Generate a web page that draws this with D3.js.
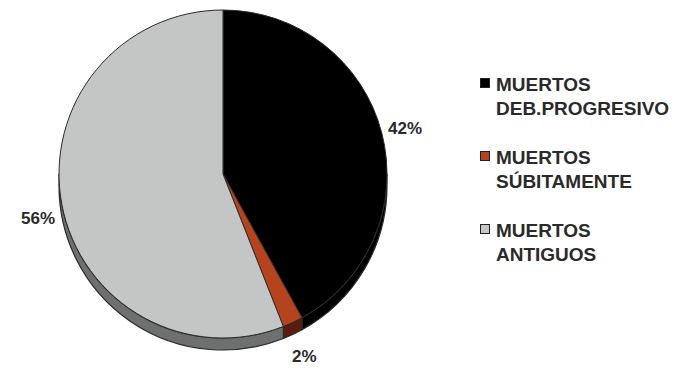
<!DOCTYPE html>
<html>
<head>
<meta charset="utf-8">
<script src="https://cdn.jsdelivr.net/npm/d3@7"></script>
<style>
  html, body { margin: 0; padding: 0; background: #fff; }
  svg { display: block; }
  text { font-family: "Liberation Sans", Arial, sans-serif; font-weight: bold; fill: #2a2a2a; }
</style>
</head>
<body>
<div id="chart"></div>
<script>
// Slices, clockwise from 12 o'clock
const categories = ["MUERTOS DEB.PROGRESIVO", "MUERTOS SÚBITAMENTE", "MUERTOS ANTIGUOS"];
const legendLines = [["MUERTOS", "DEB.PROGRESIVO"], ["MUERTOS", "SÚBITAMENTE"], ["MUERTOS", "ANTIGUOS"]];
const values = [42, 2, 56];
const faceColours = ["#000000", "#b5431d", "#c4c5c5"];
const sideColours = ["#000000", "#5a1c0c", "#6e7070"];

const width = 688;
const height = 371;

// Pie geometry
const cx = 223;
const cy = 174;
const radius = 164;
const depth = 12;

const svg = d3.select("#chart").append("svg")
  .attr("width", width)
  .attr("height", height);

const pie = d3.pie().sort(null).value((d) => d);
const arcs = pie(values);

const arc = d3.arc().innerRadius(0).outerRadius(radius);

// point on the rim for a d3 pie angle
const rimPoint = (a, dy) => [cx + radius * Math.sin(a), cy + dy - radius * Math.cos(a)];

// Side walls - only the front (lower) half of the pie shows
const sides = svg.append("g").attr("class", "sides");
arcs.forEach((d, i) => {
  const a0 = Math.max(d.startAngle, Math.PI / 2);
  const a1 = Math.min(d.endAngle, 3 * Math.PI / 2);
  if (a1 <= a0) return;
  const p = d3.path();
  const s = rimPoint(a0, 0);
  p.moveTo(s[0], s[1]);
  p.arc(cx, cy, radius, a0 - Math.PI / 2, a1 - Math.PI / 2);
  const e = rimPoint(a1, depth);
  p.lineTo(e[0], e[1]);
  p.arc(cx, cy + depth, radius, a1 - Math.PI / 2, a0 - Math.PI / 2, true);
  p.closePath();
  sides.append("path")
    .attr("d", p.toString())
    .attr("fill", sideColours[i])
    .attr("stroke", "#2a2a2a")
    .attr("stroke-width", 1.2)
    .attr("stroke-linejoin", "round");
});

// Top face
svg.append("g")
  .attr("transform", `translate(${cx},${cy})`)
  .selectAll("path")
  .data(arcs)
  .join("path")
  .attr("d", arc)
  .attr("fill", (d, i) => faceColours[i])
  .attr("stroke", "#2a2a2a")
  .attr("stroke-width", 1);

// Percentage labels
const pctLabels = [
  { x: 388, y: 134, anchor: "start" },
  { x: 292, y: 362, anchor: "start" },
  { x: 55, y: 224, anchor: "end" },
];
svg.append("g")
  .selectAll("text")
  .data(arcs)
  .join("text")
  .attr("x", (d, i) => pctLabels[i].x)
  .attr("y", (d, i) => pctLabels[i].y)
  .attr("text-anchor", (d, i) => pctLabels[i].anchor)
  .attr("font-size", 17)
  .text((d) => d.data + "%");

// Legend
const legend = svg.append("g").attr("transform", "translate(480,91)");
const items = legend.selectAll("g")
  .data(categories)
  .join("g")
  .attr("transform", (d, i) => `translate(0,${i * 73})`);

items.append("rect")
  .attr("x", 0.5)
  .attr("y", -12.5)
  .attr("width", 9)
  .attr("height", 9)
  .attr("fill", (d, i) => faceColours[i])
  .attr("stroke", "#222")
  .attr("stroke-width", 1);

items.append("text")
  .attr("font-size", 19)
  .selectAll("tspan")
  .data((d, i) => legendLines[i])
  .join("tspan")
  .attr("x", 16)
  .attr("y", (d, j) => j * 24)
  .text((d) => d);
</script>
</body>
</html>
